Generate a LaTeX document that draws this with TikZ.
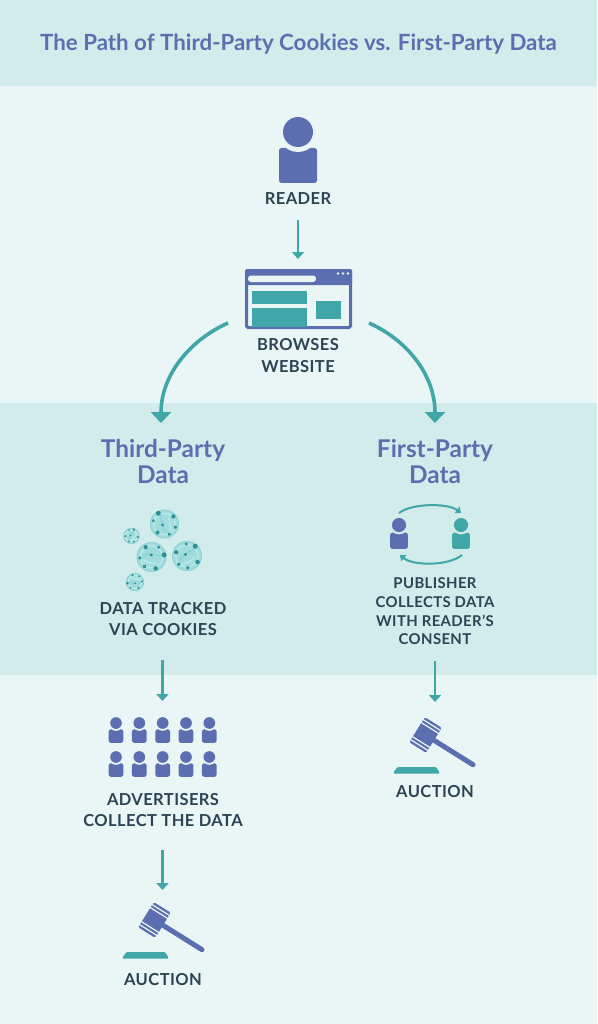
\documentclass[tikz,border=0pt]{standalone}
\usepackage{fontspec}
\setmainfont{Lato}
\newfontfamily\spaced{Lato}[LetterSpace=2.5]
\usetikzlibrary{arrows.meta}
\definecolor{bandM}{HTML}{D2ECEB}
\definecolor{bandL}{HTML}{EAF6F6}
\definecolor{iblue}{HTML}{5B6FB0}
\definecolor{iteal}{HTML}{40A6A8}
\definecolor{tdark}{HTML}{2D4454}
\definecolor{ck}{HTML}{A0DCDD}
\definecolor{cklt}{HTML}{BCE7E7}
\definecolor{ckm}{HTML}{8CD3D5}
\definecolor{ckd}{HTML}{2F8F95}
\tikzset{
  lbl/.style={font=\fontsize{16.5}{21.5}\selectfont\spaced\bfseries,text=tdark,align=center,inner sep=0pt},
  lblsmall/.style={font=\fontsize{14.9}{18.7}\selectfont\spaced\bfseries,text=tdark,align=center,inner sep=0pt},
  head2/.style={font=\fontsize{24.4}{26}\selectfont\bfseries,text=iblue,align=center,inner sep=0pt},
  flow/.style={draw=iteal,line width=2.3pt,-{Triangle[width=12pt,length=7pt]}},
  bigflow/.style={draw=iteal,line width=3.6pt,-{Triangle[width=20pt,length=11pt]}},
  swap/.style={draw=iteal,line width=2pt,-{Triangle[width=8pt,length=5pt]}},
  pics/person/.style n args={2}{code={
    \fill[#1,rounded corners=2.5pt] (-19,16) rectangle (19,51);
    \fill[#2] (0,0) circle (20);
    \fill[#1] (0,0) circle (15);
  }},
  pics/gavel/.style={code={
    \begin{scope}[rotate=-32]
      \draw[iblue,line width=5pt,line cap=round] (0,0) -- (56,0);
      \fill[iblue,rounded corners=1.5pt] (-10,-14.8) rectangle (10,14.8);
      \draw[bandL,line width=1.2pt] (-10.5,-11.8) -- (10.5,-11.8) (-10.5,-8.3) -- (10.5,-8.3)
        (-10.5,11.8) -- (10.5,11.8) (-10.5,8.3) -- (10.5,8.3);
    \end{scope}
    \fill[iteal] (-31.5,38.5) -- (-31.5,36) to[out=-90,in=180] (-27,32) -- (9.5,32) to[out=0,in=-90] (13.5,36) -- (13.5,38.5) -- cycle;
  }},
  pics/cookie/.style={code={
    \fill[ck] (0,0) circle (10);
    \draw[ckm,line width=.8pt] (0,0) circle (9.6);
    \draw[cklt,line width=1.4pt] (0,0) circle (7.4);
    \draw[ckm,line width=1.6pt,line cap=round] (-5,3) to[bend left=20] (4,-4);
    \draw[cklt,line width=1.5pt,line cap=round] (-3,5) to[bend right=20] (5,1);
    \foreach \a/\b/\r in {-7.2/-2.5/1.4, 5.5/-6.5/1.7, 7/4/1.5, 0.5/7.8/1.3, -5.5/5.5/1.2, -1/-1/1.1, -0.5/-8/1.1}
      \fill[ckd] (\a,\b) circle (\r);
  }}
}
\begin{document}
\begin{tikzpicture}[x=1pt,y=-1pt]
\useasboundingbox (0,0) rectangle (597,1024);
% bands
\fill[bandL] (0,0) rectangle (597,1024);
\fill[bandM] (0,0) rectangle (597,86);
\fill[bandM] (0,403) rectangle (597,675);
% title
\node[font=\fontsize{22.3}{26}\selectfont\bfseries,text=iblue,inner sep=0pt] (title) at (298.5,44.5) {The Path of Third-Party Cookies vs. First-Party Data};
% reader
\pic at (298,132) {person={iblue}{bandL}};
\node[lbl] (reader) at (298,198.7) {READER};
\coordinate (a1s) at (298,220);
\coordinate (a1e) at (298,259);
\draw[flow] (a1s) -- (a1e);
% browser
\draw[iblue,fill=bandL,line width=3pt,rounded corners=1.5pt] (246.5,270.5) rectangle (350.5,327.5);
\fill[iblue,rounded corners=1.5pt] (245,269) rectangle (352,285);
\fill[bandL,rounded corners=3pt] (248,275.5) rectangle (316,282);
\foreach \x in {338,343,348} \fill[bandL] (\x,273.5) circle (1.4);
\fill[iteal] (252,291) rectangle (307,304);
\fill[iteal] (252,308) rectangle (307,326.5);
\fill[iteal] (316,301) rectangle (341,319);
\node[lbl] (website) at (298,355.7) {BROWSES\\WEBSITE};
% main curves
\coordinate (c1s) at (228,323);
\coordinate (c1e) at (161,423);
\coordinate (c2s) at (369,323);
\coordinate (c2e) at (435,423);
\draw[bigflow] (c1s) .. controls (190,340) and (161,375) .. (c1e);
\draw[bigflow] (c2s) .. controls (407,340) and (435,375) .. (c2e);
% section heads
\node[head2] (third) at (163,461.7) {Third-Party\\Data};
\node[head2] (first) at (435,461.7) {First-Party\\Data};
% cookies
\pic[scale=1.45,rotate=70] at (164.5,524) {cookie};
\pic[scale=.8,rotate=20] at (131.5,536) {cookie};
\pic[scale=1.5,rotate=-40] at (151.5,557) {cookie};
\pic[scale=1.5] at (187,556) {cookie};
\pic[scale=.9,rotate=140] at (135,582) {cookie};
\node[lbl] (tracked) at (163,619) {DATA TRACKED\\VIA COOKIES};
% consent
\pic[scale=.47] at (399,525) {person={iblue}{bandM}};
\pic[scale=.47] at (461,525) {person={iteal}{bandM}};
\coordinate (s1s) at (399,513);
\coordinate (s1e) at (461,513);
\coordinate (s2s) at (462,555);
\coordinate (s2e) at (400,555);
\draw[swap] (s1s) .. controls (412,503) and (448,503) .. (s1e);
\draw[swap] (s2s) .. controls (449,566) and (413,566) .. (s2e);
\node[lblsmall] (consent) at (435,611.5) {PUBLISHER\\COLLECTS DATA\\WITH READER’S\\CONSENT};
% lower arrows
\coordinate (a2s) at (162.5,660);
\coordinate (a2e) at (162.5,701);
\draw[flow] (a2s) -- (a2e);
\coordinate (a3s) at (435,661);
\coordinate (a3e) at (435,702);
\draw[flow] (a3s) -- (a3e);
% advertisers
\foreach \x in {116,139.3,162.7,186,209.3} {
  \pic[scale=.39] at (\x,723) {person={iblue}{bandL}};
  \pic[scale=.39] at (\x,757) {person={iblue}{bandL}};
}
\node[lbl] (adv) at (163,810) {ADVERTISERS\\COLLECT THE DATA};
\coordinate (a4s) at (162.5,850);
\coordinate (a4e) at (162.5,890);
\draw[flow] (a4s) -- (a4e);
% gavels
\pic at (154.5,920) {gavel};
\node[lbl] (auc1) at (163,979.7) {AUCTION};
\pic at (425.5,735) {gavel};
\node[lbl] (auc2) at (435,791.7) {AUCTION};
\end{tikzpicture}
\end{document}
